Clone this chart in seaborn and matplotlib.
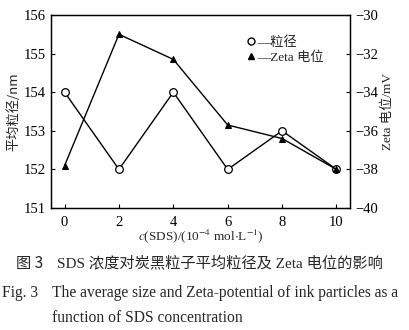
import matplotlib
matplotlib.use("Agg")
import matplotlib.pyplot as plt
from matplotlib.lines import Line2D
import seaborn as sns
import pandas as pd

conc = [0, 2, 4, 6, 8, 10]
size_nm = [154.0, 152.0, 154.0, 152.0, 153.0, 152.0]
zeta_mv = [-37.8, -31.0, -32.3, -35.7, -36.4, -38.0]
left_ticks = [151, 152, 153, 154, 155, 156]
right_ticks = [-40, -38, -36, -34, -32, -30]
x_ticks = [0, 2, 4, 6, 8, 10]

df = pd.DataFrame({"c": conc, "size": size_nm, "zeta": zeta_mv})

sns.set_style("ticks")
plt.rcParams["font.family"] = ["Liberation Serif", "Noto Sans CJK SC"]
plt.rcParams["mathtext.fontset"] = "stix"
plt.rcParams["axes.unicode_minus"] = True

fig = plt.figure(figsize=(4.1, 3.3), dpi=100)
ax = fig.add_axes([0.1244, 0.3697, 0.7293, 0.5848])
ax2 = ax.twinx()

sns.lineplot(data=df, x="c", y="size", ax=ax, color="black", lw=1.0,
             marker="o", markersize=5.5, markerfacecolor="white",
             markeredgecolor="black", markeredgewidth=0.9)
sns.lineplot(data=df, x="c", y="zeta", ax=ax2, color="black", lw=1.0,
             marker="^", markersize=5, markerfacecolor="black",
             markeredgecolor="black")

ax.set_xlim(-0.5, 10.5)
ax.set_ylim(151, 156)
ax2.set_ylim(-40, -30)
ax.set_xticks(x_ticks)
ax.set_yticks(left_ticks)
ax2.set_yticks(right_ticks)

for a in (ax, ax2):
    for s in a.spines.values():
        s.set_linewidth(0.9)
        s.set_color("black")
    a.tick_params(direction="in", length=3, width=0.8, labelsize=10.5, colors="black")
ax.tick_params(axis="x", pad=6)

ax.set_xlabel(r"$c$(SDS)/(10$^{-4}$ mol$\cdot$L$^{-1}$)", fontsize=9.5, labelpad=-1)
ax.set_ylabel("平均粒径/nm", fontsize=9.5, family=["Noto Sans CJK SC"], labelpad=3)
ax2.set_ylabel("Zeta 电位/mV", fontsize=9.5, family=["Liberation Serif", "Noto Sans CJK SC"], labelpad=3)

handles = [
    Line2D([], [], ls="none", marker="o", markersize=5, markerfacecolor="white",
           markeredgecolor="black"),
    Line2D([], [], ls="none", marker="^", markersize=5, markerfacecolor="black",
           markeredgecolor="black"),
]
leg = ax.legend(handles, ["—粒径", "—Zeta 电位"], loc="upper left",
                bbox_to_anchor=(0.655, 0.89), frameon=False, fontsize=9.5,
                handlelength=0.6, handletextpad=0.2, labelspacing=0.2,
                borderaxespad=0.0, borderpad=0.0)

fig.text(0.04, 0.203, "图 3", fontsize=11, family=["Noto Sans CJK SC"], va="center")
fig.text(0.14, 0.203, "SDS 浓度对炭黑粒子平均粒径及 Zeta 电位的影响", fontsize=11,
         family=["Liberation Serif", "Noto Sans CJK SC"], va="center")
fig.text(0.005, 0.113, "Fig. 3", fontsize=11.2, va="center")
fig.text(0.127, 0.113, "The average size and Zeta-potential of ink particles as a",
         fontsize=11.2, va="center")
fig.text(0.127, 0.035, "function of SDS concentration", fontsize=11.2, va="center")

fig.savefig("out.png", dpi=100)
